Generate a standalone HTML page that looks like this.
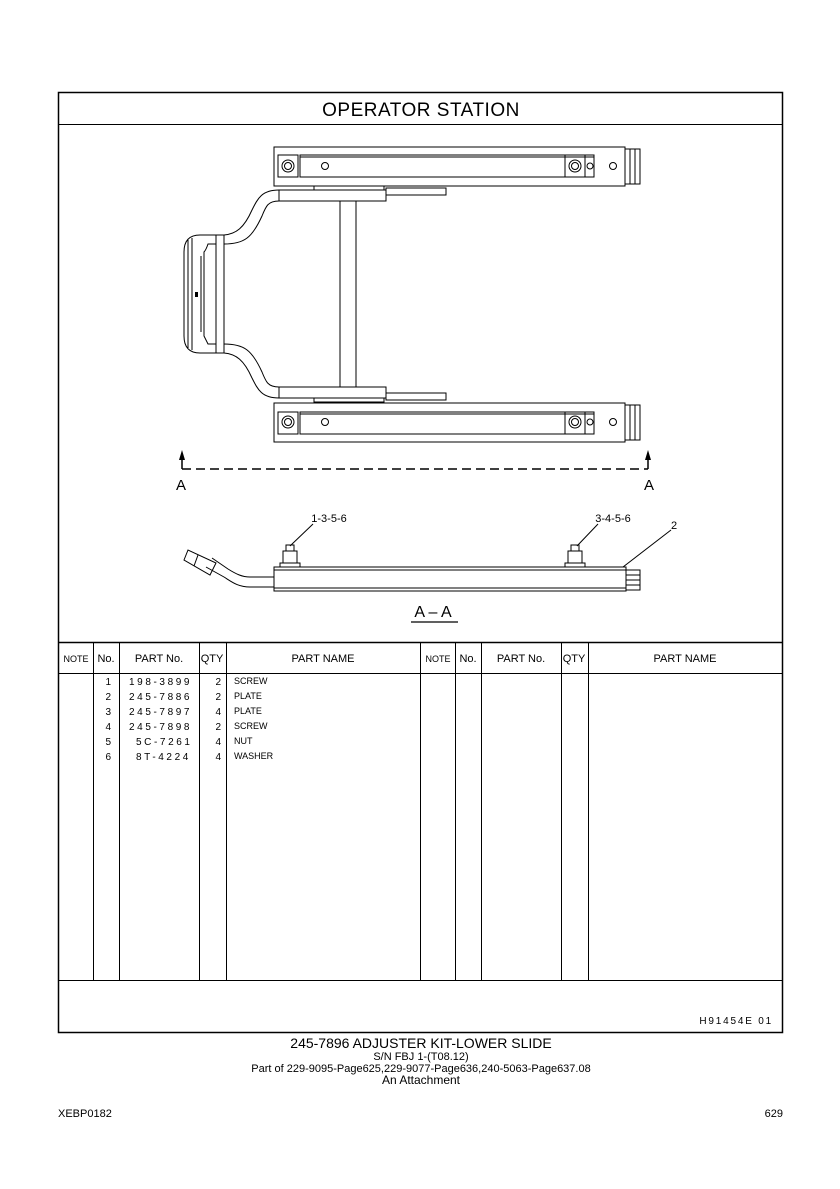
<!DOCTYPE html>
<html><head><meta charset="utf-8"><style>
body{margin:0;background:#fff;}
svg{display:block;font-family:"Liberation Sans",Arial,sans-serif;}
</style></head><body>
<svg width="840" height="1189" viewBox="0 0 840 1189" xmlns="http://www.w3.org/2000/svg">
<rect x="0" y="0" width="840" height="1189" fill="#fff"/>
<!-- frame -->
<rect x="58.5" y="92.5" width="724" height="940" fill="none" stroke="#000" stroke-width="1.5"/>
<line x1="58" y1="124.5" x2="783" y2="124.5" stroke="#000"/>
<text x="421" y="116" font-size="19" text-anchor="middle" letter-spacing="0.5">OPERATOR  STATION</text>

<g stroke="#000" fill="none" stroke-width="1">
<!-- top rail -->
<rect x="274" y="147" width="351" height="39"/>
<rect x="300" y="155" width="294" height="22"/>
<line x1="300" y1="157" x2="594" y2="157"/>
<rect x="278" y="155" width="20" height="22"/>
<circle cx="288" cy="166" r="6"/><circle cx="288" cy="166" r="3.5"/>
<circle cx="325" cy="166" r="3.5"/>
<rect x="565" y="155" width="20" height="22"/>
<circle cx="575" cy="166" r="6"/><circle cx="575" cy="166" r="3.5"/>
<circle cx="613" cy="166" r="3.5"/><circle cx="590" cy="166" r="3"/>
<rect x="625" y="149" width="15" height="35"/>
<line x1="630" y1="149" x2="630" y2="184"/><line x1="635" y1="149" x2="635" y2="184"/>
<!-- bottom rail -->
<rect x="274" y="403" width="351" height="39"/>
<rect x="300" y="412" width="294" height="22"/>
<line x1="300" y1="414" x2="594" y2="414"/>
<rect x="278" y="412" width="20" height="22"/>
<circle cx="288" cy="422" r="6"/><circle cx="288" cy="422" r="3.5"/>
<circle cx="325" cy="422" r="3.5"/>
<rect x="565" y="412" width="20" height="22"/>
<circle cx="575" cy="422" r="6"/><circle cx="575" cy="422" r="3.5"/>
<circle cx="613" cy="422" r="3.5"/><circle cx="590" cy="422" r="3"/>
<rect x="625" y="405" width="15" height="35"/>
<line x1="630" y1="405" x2="630" y2="440"/><line x1="635" y1="405" x2="635" y2="440"/>
<!-- cross plates -->
<rect x="279" y="190" width="107" height="11"/>
<rect x="386" y="188" width="60" height="7"/>
<rect x="314" y="186" width="70" height="4"/>
<rect x="279" y="387" width="107" height="11"/>
<rect x="386" y="393" width="60" height="7"/>
<rect x="314" y="398" width="70" height="4"/>
<!-- center bar -->
<rect x="340" y="201" width="16" height="186"/>
<!-- handle tubes -->
<path d="M279,190 C262,190 258,198 252,210 C244,228 236,234 224,235"/>
<path d="M279,201 C268,201 266,206 262,216 C252,238 244,244 224,244"/>
<path d="M279,398 C262,398 258,390 252,378 C244,360 236,354 224,353"/>
<path d="M279,387 C268,387 266,382 262,372 C252,350 244,344 224,344"/>
<!-- handle frame -->
<path d="M216,235 L200,235 Q184,235 184,252 L184,336 Q184,353 200,353 L216,353"/>
<path d="M216,244 L208,244 Q206,250 204,252 L204,336 Q206,340 208,344 L216,344"/>
<rect x="216" y="235" width="8" height="118"/>
<path d="M188,240 L188,348" /><path d="M192,238 L192,350"/>
<line x1="201" y1="256" x2="201" y2="332"/>
</g>
<rect x="195" y="292" width="3" height="5" fill="#000"/>

<!-- section line -->
<line x1="182" y1="469" x2="648" y2="469" stroke="#000" stroke-width="1.5" stroke-dasharray="9,5"/>
<line x1="182" y1="469" x2="182" y2="455" stroke="#000" stroke-width="1.5"/>
<line x1="648" y1="469" x2="648" y2="455" stroke="#000" stroke-width="1.5"/>
<polygon points="182,450 179,460 185,460" fill="#000"/>
<polygon points="648,450 645,460 651,460" fill="#000"/>
<text x="181" y="490" font-size="15" text-anchor="middle">A</text>
<text x="649" y="490" font-size="15" text-anchor="middle">A</text>

<!-- section view -->
<g stroke="#000" fill="none" stroke-width="1">
<rect x="274" y="567" width="352" height="24"/>
<line x1="274" y1="570" x2="626" y2="570"/>
<line x1="274" y1="588" x2="626" y2="588"/>
<rect x="626" y="570" width="14" height="20"/>
<line x1="626" y1="575" x2="640" y2="575"/><line x1="626" y1="580" x2="640" y2="580"/><line x1="626" y1="585" x2="640" y2="585"/>
<rect x="280" y="563" width="20" height="4"/>
<rect x="283" y="551" width="14" height="12"/><rect x="286" y="545" width="8" height="6"/>
<rect x="565" y="563" width="20" height="4"/>
<rect x="568" y="551" width="14" height="12"/><rect x="571" y="545" width="8" height="6"/>
<path d="M274,577 L250,577 C242,577 236,574 228,569 L212,558"/>
<path d="M274,587 L250,587 C238,587 232,582 224,577 L206,567"/>
<path d="M184,560 L188,550 L216,563 L210,575 Z"/>
<line x1="198" y1="555" x2="194" y2="566"/>
<line x1="290" y1="546" x2="313" y2="524"/>
<line x1="577" y1="546" x2="598" y2="524"/>
<line x1="623" y1="567" x2="671" y2="530"/>
</g>
<text x="329" y="522" font-size="11" text-anchor="middle">1-3-5-6</text>
<text x="613" y="522" font-size="11" text-anchor="middle">3-4-5-6</text>
<text x="674" y="529" font-size="11" text-anchor="middle">2</text>
<text x="433" y="617" font-size="16" text-anchor="middle">A – A</text>
<line x1="411" y1="622" x2="458" y2="622" stroke="#000" stroke-width="1.2"/>

<!-- table -->
<g stroke="#000" stroke-width="1">
<line x1="58" y1="642.5" x2="783" y2="642.5" stroke-width="1.5"/>
<line x1="58" y1="673.5" x2="783" y2="673.5"/>
<line x1="58" y1="980.5" x2="783" y2="980.5"/>
<line x1="93.5" y1="642" x2="93.5" y2="980"/>
<line x1="119.5" y1="642" x2="119.5" y2="980"/>
<line x1="199.5" y1="642" x2="199.5" y2="980"/>
<line x1="226.5" y1="642" x2="226.5" y2="980"/>
<line x1="420.5" y1="642" x2="420.5" y2="980"/>
<line x1="455.5" y1="642" x2="455.5" y2="980"/>
<line x1="481.5" y1="642" x2="481.5" y2="980"/>
<line x1="561.5" y1="642" x2="561.5" y2="980"/>
<line x1="588.5" y1="642" x2="588.5" y2="980"/>
</g>
<g font-size="11" text-anchor="middle">
<text x="76" y="662" font-size="9">NOTE</text><text x="106" y="662">No.</text><text x="159" y="662">PART No.</text><text x="212" y="662">QTY</text><text x="323" y="662">PART NAME</text>
<text x="438" y="662" font-size="9">NOTE</text><text x="468" y="662">No.</text><text x="521" y="662">PART No.</text><text x="574" y="662">QTY</text><text x="685" y="662">PART NAME</text>
</g>
<g font-size="10">
<g text-anchor="end">
<text x="111" y="685">1</text><text x="111" y="700">2</text><text x="111" y="715">3</text><text x="111" y="730">4</text><text x="111" y="745">5</text><text x="111" y="760">6</text>
<text x="221" y="685">2</text><text x="221" y="700">2</text><text x="221" y="715">4</text><text x="221" y="730">2</text><text x="221" y="745">4</text><text x="221" y="760">4</text>
</g>
<g letter-spacing="2.6">
<text x="129" y="685">198-3899</text><text x="129" y="700">245-7886</text><text x="129" y="715">245-7897</text><text x="129" y="730">245-7898</text><text x="136" y="745">5C-7261</text><text x="136" y="760">8T-4224</text>
</g>
<g font-size="9">
<text x="234" y="684">SCREW</text><text x="234" y="699">PLATE</text><text x="234" y="714">PLATE</text><text x="234" y="729">SCREW</text><text x="234" y="744">NUT</text><text x="234" y="759">WASHER</text>
</g>
</g>
<text x="773" y="1024" font-size="10" text-anchor="end" letter-spacing="1.8">H91454E  01</text>

<!-- captions -->
<text x="421" y="1048" font-size="14" text-anchor="middle">245-7896  ADJUSTER KIT-LOWER SLIDE</text>
<text x="421" y="1060" font-size="11" text-anchor="middle">S/N FBJ 1-(T08.12)</text>
<text x="421" y="1072" font-size="11" text-anchor="middle">Part of 229-9095-Page625,229-9077-Page636,240-5063-Page637.08</text>
<text x="421" y="1084" font-size="12" text-anchor="middle">An Attachment</text>
<text x="58" y="1117" font-size="11">XEBP0182</text>
<text x="783" y="1117" font-size="11" text-anchor="end">629</text>
</svg>
</body></html>
